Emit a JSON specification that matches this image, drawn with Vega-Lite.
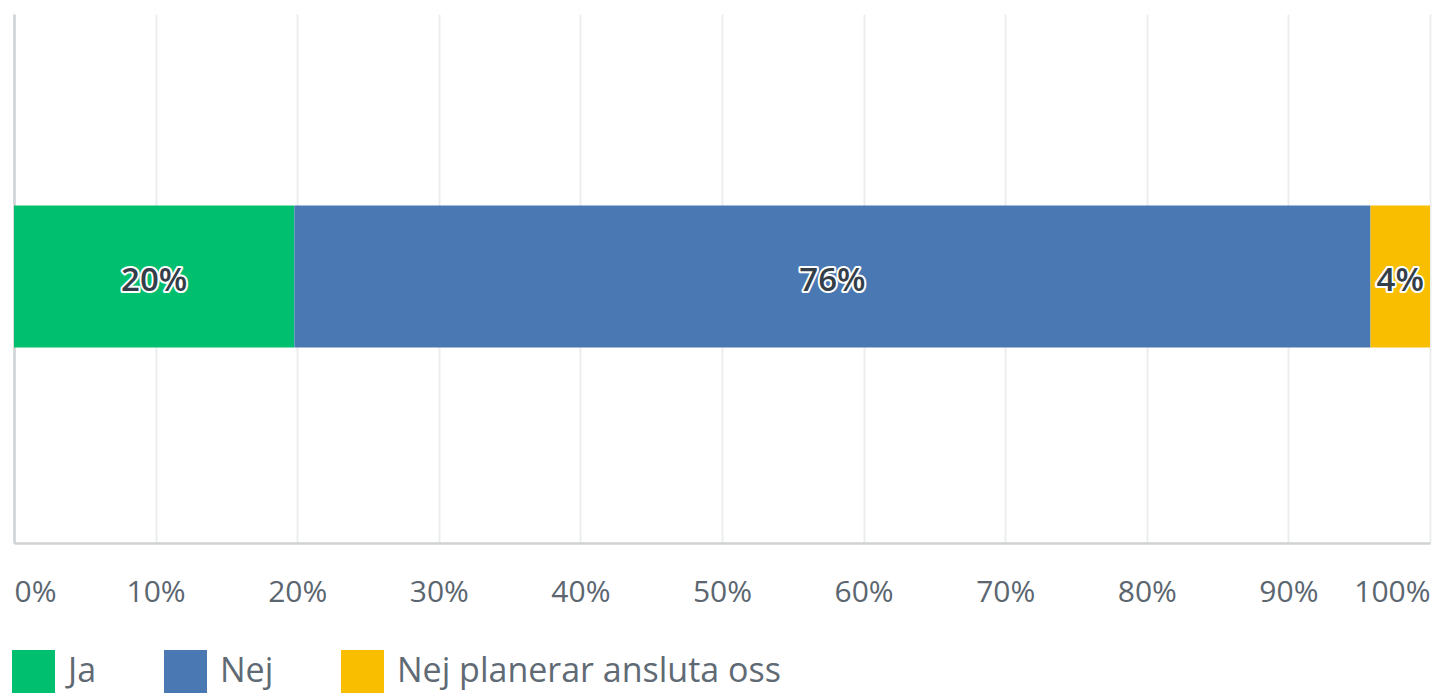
{
  "$schema": "https://vega.github.io/schema/vega-lite/v6.json",
  "width": 1416,
  "height": 529,
  "autosize": "none",
  "padding": {"left": 14, "top": 14, "right": 4, "bottom": 153},
  "background": "white",
  "config": {
    "view": {"stroke": null},
    "font": "Open Sans"
  },
  "data": {
    "values": [
      {"q": "Q", "svar": "Ja", "andel": 19.8, "ordning": 1, "etikett": "20%"},
      {"q": "Q", "svar": "Nej", "andel": 76.0, "ordning": 2, "etikett": "76%"},
      {"q": "Q", "svar": "Nej planerar ansluta oss", "andel": 4.2, "ordning": 3, "etikett": "4%"}
    ]
  },
  "transform": [
    {"stack": "andel", "groupby": ["q"], "sort": [{"field": "ordning", "order": "ascending"}], "as": ["x0", "x1"]},
    {"calculate": "(datum.x0 + datum.x1) / 2", "as": "mid"}
  ],
  "encoding": {
    "y": {
      "field": "q", "type": "nominal",
      "scale": {"paddingInner": 0, "paddingOuter": 0},
      "axis": {"title": null, "labels": false, "ticks": false, "domain": true, "domainColor": "#cfd2d4", "domainWidth": 2.5, "grid": false}
    }
  },
  "layer": [
    {
      "mark": {"type": "bar", "size": 142, "yOffset": -2},
      "encoding": {
        "x": {
          "field": "x0", "type": "quantitative",
          "scale": {"domain": [0, 100], "nice": false},
          "axis": {
            "title": null,
            "values": [0, 10, 20, 30, 40, 50, 60, 70, 80, 90, 100],
            "labelExpr": "datum.value + '%'",
            "labelFlush": true,
            "labelFontSize": 30,
            "labelColor": "#5b6670",
            "labelPadding": 34,
            "ticks": false,
            "domainColor": "#cfd2d4",
            "domainWidth": 2.5,
            "grid": true,
            "gridColor": "#ebedee",
            "gridWidth": 2
          }
        },
        "x2": {"field": "x1"},
        "color": {
          "field": "svar", "type": "nominal",
          "sort": ["Ja", "Nej", "Nej planerar ansluta oss"],
          "scale": {"domain": ["Ja", "Nej", "Nej planerar ansluta oss"], "range": ["#00bf6f", "#4a78b3", "#f9be00"]},
          "legend": {
            "title": null,
            "orient": "none",
            "legendX": -2,
            "legendY": 636,
            "direction": "horizontal",
            "symbolType": "square",
            "symbolSize": 1849,
            "symbolStrokeWidth": 0,
            "symbolOpacity": 1,
            "labelFontSize": 34,
            "labelColor": "#5f6a74",
            "labelOffset": 13,
            "columnPadding": 67,
            "padding": 0,
            "labelLimit": 600
          }
        }
      }
    },
    {
      "mark": {"type": "text", "fontSize": 33, "fontWeight": 600, "stroke": "white", "strokeWidth": 4, "strokeJoin": "round", "fill": "white", "dy": 2},
      "encoding": {
        "x": {"field": "mid", "type": "quantitative"},
        "text": {"field": "etikett"}
      }
    },
    {
      "mark": {"type": "text", "fontSize": 33, "fontWeight": 600, "fill": "#333e48", "dy": 2},
      "encoding": {
        "x": {"field": "mid", "type": "quantitative"},
        "text": {"field": "etikett"}
      }
    }
  ]
}
